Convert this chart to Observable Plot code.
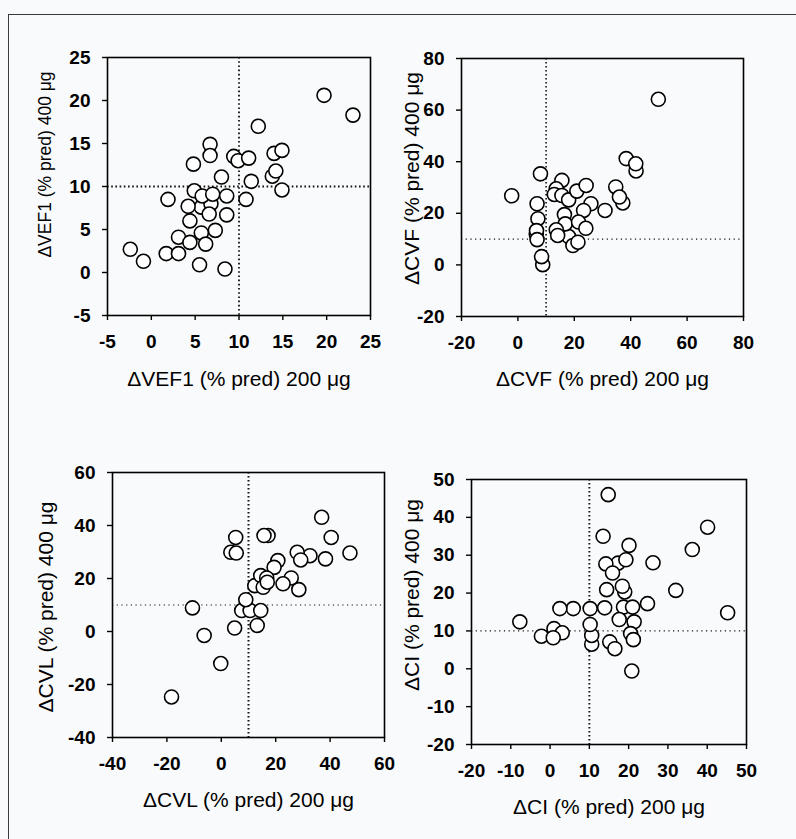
<!DOCTYPE html>
<html>
<head>
<meta charset="utf-8">
<script src="https://cdn.jsdelivr.net/npm/d3@7"></script>
<script src="https://cdn.jsdelivr.net/npm/@observablehq/plot@0.6"></script>
<style>
  html, body { margin: 0; padding: 0; background: #f9fafb; }
  #page { position: relative; width: 796px; height: 839px; overflow: hidden; background: #f9fafb;
          font-family: "Liberation Sans", Arial, sans-serif; }
  #border { position: absolute; left: 8px; top: 14px; right: -4px; bottom: -4px;
            border-top: 1.5px solid #3a3a3a; border-left: 1.5px solid #3a3a3a; }
  .panel { position: absolute; }
</style>
</head>
<body>
<div id="page"><div id="border"></div></div>
<script>
// ---- Panel 1: ΔVEF1 ----
const vef1_200 = [5.7, 6.8, 19.7, 23.0, 12.2, 6.7, 6.7, 4.8, 9.4, 9.9, 11.1, 14.0, 14.9, 13.8, 14.2, 8.0, 11.4, 14.9, 4.9, 5.8, 7.0, 8.6, 10.8, 1.9, 4.2, 6.6, 8.6, 4.4, 5.7, 7.3, 3.1, 4.4, 6.2, -2.4, -0.9, 1.7, 3.1, 5.5, 8.4];
const vef1_400 = [7.6, 8.0, 20.6, 18.3, 17.0, 14.9, 13.6, 12.6, 13.5, 13.0, 13.3, 13.85, 14.2, 11.2, 11.8, 11.1, 10.6, 9.6, 9.5, 8.9, 9.1, 8.9, 8.5, 8.5, 7.7, 6.8, 6.7, 6.0, 4.6, 4.9, 4.1, 3.5, 3.3, 2.7, 1.3, 2.2, 2.2, 0.9, 0.4];
const vef1Ticks = [-5, 0, 5, 10, 15, 20, 25];

// ---- Panel 2: ΔCVF ----
const cvf_200 = [6.5, 18.0, 49.8, 41.9, 38.4, 41.8, 8.0, -2.2, 15.6, 13.6, 12.9, 15.6, 18.0, 20.9, 24.2, 34.7, 37.2, 36.0, 25.9, 23.3, 30.9, 6.8, 7.1, 6.6, 6.8, 16.5, 16.8, 21.5, 24.1, 13.6, 14.1, 19.5, 21.3, 8.8, 8.4];
const cvf_400 = [12.0, 11.0, 64.2, 36.4, 41.2, 39.2, 35.3, 26.8, 32.75, 29.5, 27.3, 26.9, 25.2, 28.6, 30.8, 30.2, 24.0, 26.3, 23.7, 21.1, 21.1, 23.7, 17.9, 13.3, 9.8, 19.5, 15.9, 16.6, 14.2, 13.6, 11.4, 7.5, 8.8, 0.1, 3.2];
const cvfTicks = [-20, 0, 20, 40, 60, 80];

// ---- Panel 3: ΔCVL ----
const cvl_200 = [36.9, 40.4, 47.3, 38.3, 32.6, 27.9, 29.2, 28.5, 25.7, 22.7, 20.8, 19.4, 17.2, 15.7, 5.3, 3.5, 5.5, 12.3, 14.5, 16.7, 15.4, 16.9, 7.5, 10.6, 9.0, 14.5, 4.9, 13.2, -10.6, -6.3, -0.2, -18.3];
const cvl_400 = [43.1, 35.5, 29.6, 27.4, 28.6, 29.9, 27.0, 15.8, 20.2, 18.0, 26.75, 24.2, 36.2, 36.2, 35.5, 29.9, 29.6, 17.3, 21.1, 20.2, 16.7, 18.6, 7.9, 7.9, 12.0, 7.9, 1.3, 2.3, 8.9, -1.5, -12.1, -24.7];
const cvlTicks = [-40, -20, 0, 20, 40, 60];

// ---- Panel 4: ΔCI ----
const ci_200 = [10.6, 10.6, 14.8, 40.1, 36.2, 13.5, 20.1, 17.3, 19.3, 14.2, 15.9, 26.2, 32.0, 19.0, 18.4, 14.4, 45.2, 24.8, 18.7, 13.9, 21.0, 10.2, 5.9, 2.5, 17.6, 21.4, 20.5, 21.2, 10.2, 15.2, 16.5, 20.8, -7.7, 1.0, 3.1, -2.2, 0.8];
const ci_400 = [6.5, 8.8, 46.0, 37.4, 31.5, 35.0, 32.6, 27.9, 28.8, 27.7, 25.3, 28.0, 20.7, 20.3, 21.8, 20.9, 14.8, 17.2, 16.3, 16.1, 16.3, 15.9, 15.9, 15.9, 13.0, 12.4, 9.3, 7.7, 11.7, 7.1, 5.3, -0.6, 12.4, 10.6, 9.5, 8.6, 8.2];
const ciTicks = [-20, -10, 0, 10, 20, 30, 40, 50];

const FONT = "Liberation Sans, Arial, Helvetica, sans-serif";

function panel(cfg) {
  const data = cfg.xs.map((x, i) => ({x, y: cfg.ys[i]}));
  const ticks = cfg.ticks;
  const dom = [ticks[0], ticks[ticks.length - 1]];
  const svg = Plot.plot({
    width: cfg.width, height: cfg.height,
    marginLeft: cfg.m[0], marginRight: cfg.m[1], marginTop: cfg.m[2], marginBottom: cfg.m[3],
    style: {background: "transparent", fontFamily: FONT, overflow: "visible", color: "#000"},
    x: {domain: dom, label: null},
    y: {domain: dom, label: null},
    marks: [
      Plot.ruleX([10], {stroke: "#111", strokeWidth: cfg.vW, strokeDasharray: cfg.vDash}),
      Plot.ruleY([10], {stroke: "#111", strokeWidth: cfg.hW, strokeDasharray: cfg.hDash}),
      Plot.frame({stroke: "#000", strokeWidth: 1.6}),
      Plot.axisX({ticks, tickFormat: d => String(d), tickSize: 5, tickPadding: 14, fontSize: 19, fontWeight: "bold", label: null, strokeWidth: 1.4}),
      Plot.axisY({ticks, tickFormat: d => String(d), tickSize: 5, tickPadding: 12, fontSize: 19, fontWeight: "bold", label: null, strokeWidth: 1.4}),
      Plot.dot(data, {x: "x", y: "y", r: 7, fill: "white", stroke: "#000", strokeWidth: 1.6}),
      Plot.text([cfg.xTitle], {text: d => d, frameAnchor: "bottom", textAnchor: "middle", dy: cfg.xTitleDy, fontSize: 21, lineAnchor: "middle", fill: "#000"}),
      Plot.text([cfg.yTitle], {text: d => d, frameAnchor: "left", textAnchor: "middle", rotate: -90, dx: cfg.yTitleDx, dy: cfg.yTitleDy, fontSize: cfg.yTitleSize, lineAnchor: "middle", fill: "#000"})
    ]
  });
  svg.classList.add("panel");
  svg.style.left = cfg.left + "px";
  svg.style.top = cfg.top + "px";
  document.getElementById("page").appendChild(svg);
}

panel({xs: vef1_200, ys: vef1_400, ticks: vef1Ticks,
  xTitle: "ΔVEF1 (% pred) 200 μg", yTitle: "ΔVEF1 (% pred) 400 μg",
  left: 0, top: 0, width: 400, height: 420, m: [107, 30, 57, 105],
  vDash: "1.6,2.6", vW: 1.8, hDash: "1.6,2.6", hW: 1.8,
  xTitleDy: 64, yTitleDx: -62, yTitleDy: -22, yTitleSize: 17.5});

panel({xs: cvf_200, ys: cvf_400, ticks: cvfTicks,
  xTitle: "ΔCVF (% pred) 200 μg", yTitle: "ΔCVF (% pred) 400 μg",
  left: 400, top: 0, width: 396, height: 420, m: [61, 53, 58, 104],
  vDash: "1.4,2.6", vW: 1.6, hDash: "1.2,3.5", hW: 1.2,
  xTitleDy: 63, yTitleDx: -49, yTitleDy: -9, yTitleSize: 21});

panel({xs: cvl_200, ys: cvl_400, ticks: cvlTicks,
  xTitle: "ΔCVL (% pred) 200 μg", yTitle: "ΔCVL (% pred) 400 μg",
  left: 0, top: 420, width: 400, height: 419, m: [112, 16, 52, 102],
  vDash: "1.6,2.4", vW: 2, hDash: "1.2,3.5", hW: 1.2,
  xTitleDy: 63, yTitleDx: -66, yTitleDy: 2, yTitleSize: 21});

panel({xs: ci_200, ys: ci_400, ticks: ciTicks,
  xTitle: "ΔCI (% pred) 200 μg", yTitle: "ΔCI (% pred) 400 μg",
  left: 400, top: 420, width: 396, height: 419, m: [71, 50, 59, 95],
  vDash: "1.6,2.4", vW: 1.9, hDash: "1.2,3.5", hW: 1.2,
  xTitleDy: 63, yTitleDx: -59, yTitleDy: -17, yTitleSize: 21});
</script>
</body>
</html>
